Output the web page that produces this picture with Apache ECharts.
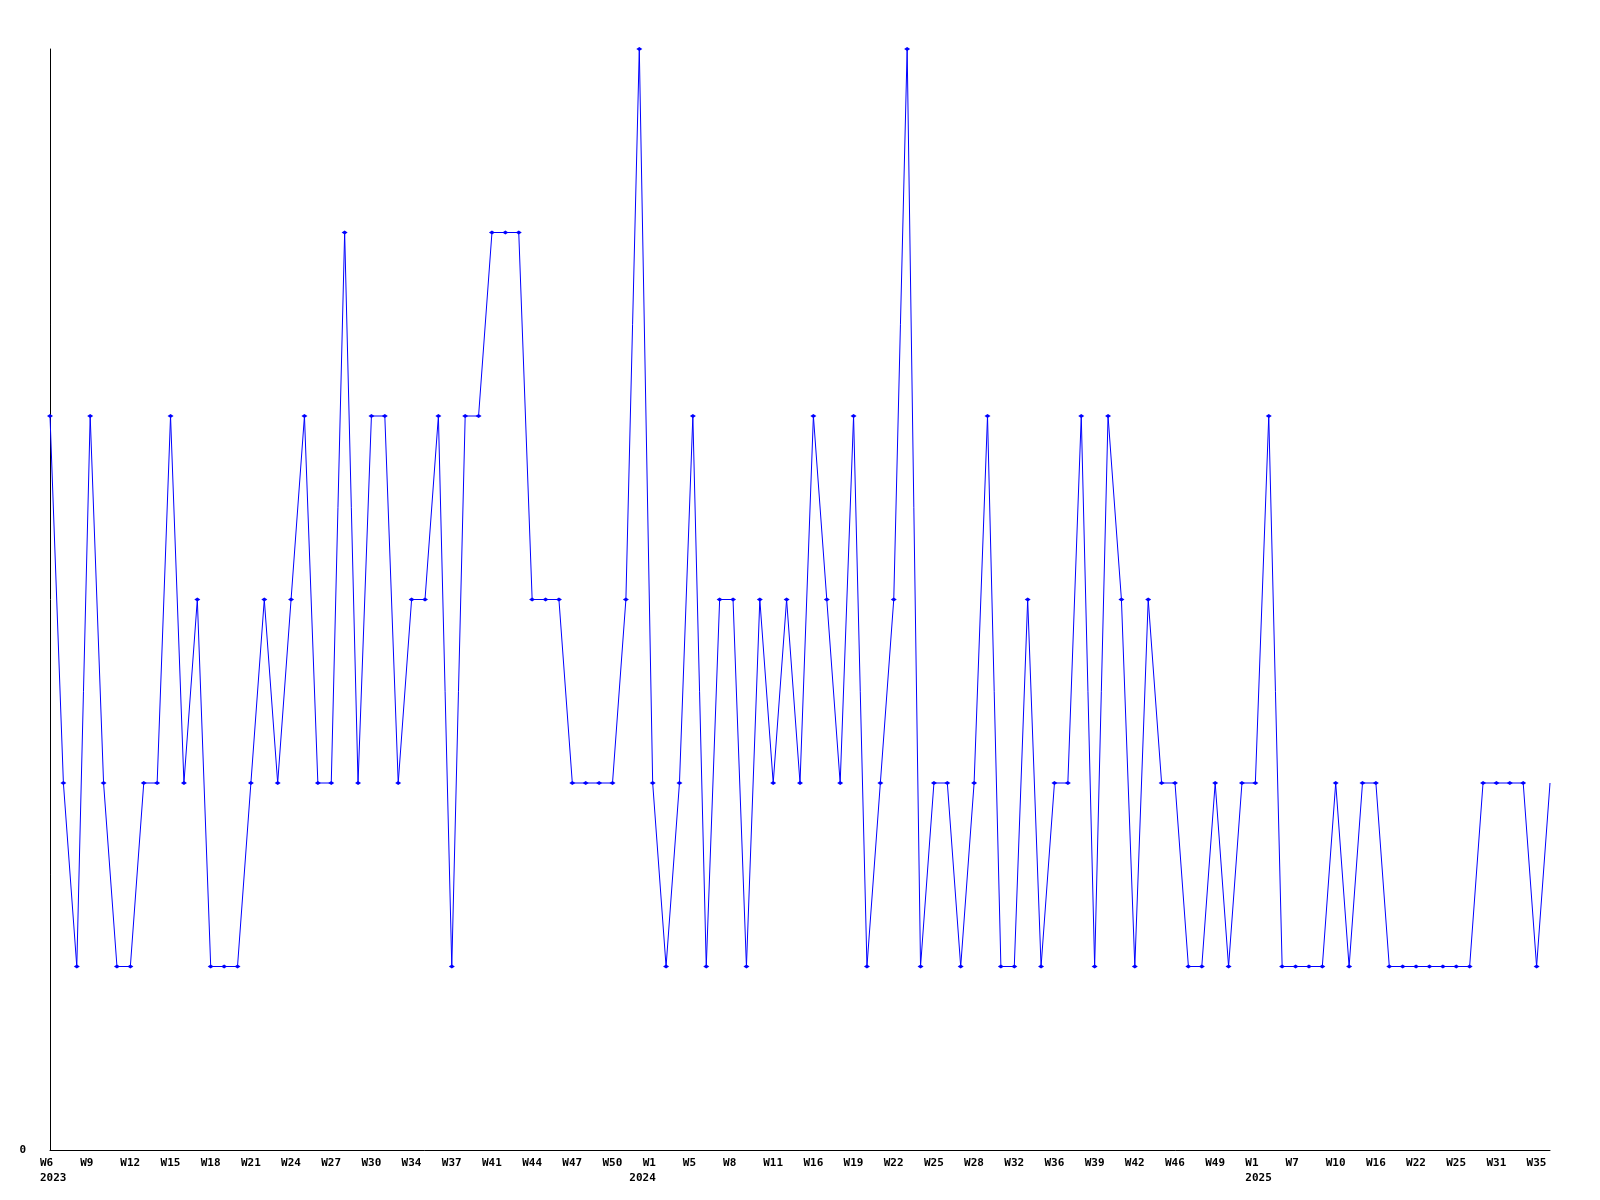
<!DOCTYPE html>
<html>
<head>
<meta charset="utf-8">
<script src="https://cdn.jsdelivr.net/npm/echarts@6/dist/echarts.min.js"></script>
<style>
html,body{margin:0;padding:0;background:#fff;}
#chart{width:1600px;height:1200px;}
</style>
</head>
<body>
<div id="chart"></div>
<script>
// Week categories (year-week); weeks with no value are absent
const weeks2023 = ['W6','W7','W8','W9','W10','W11','W12','W13','W14','W15','W16','W17','W18','W19','W20','W21','W22','W23','W24','W25','W26','W27','W28','W29','W30','W31','W33','W34','W35','W36','W37','W38','W40','W41','W42','W43','W44','W45','W46','W47','W48','W49','W50','W51','W52'];
const weeks2024 = ['W1','W2','W3','W5','W6','W7','W8','W9','W10','W11','W13','W14','W16','W17','W18','W19','W20','W21','W22','W23','W24','W25','W26','W27','W28','W29','W30','W32','W33','W34','W36','W37','W38','W39','W40','W41','W42','W43','W44','W46','W47','W48','W49','W50','W51'];
const weeks2025 = ['W1','W2','W4','W7','W8','W9','W10','W11','W13','W16','W18','W20','W22','W23','W24','W25','W27','W29','W31','W32','W33','W35','W36'];

// Year captions and the category index under which each is printed
const yearLabels = ['2023','2024','2025'];
const yearLabelAt = [0, 44, 90];

const values = [
  4,2,1,4,2,1,1,2,2,4,
  2,3,1,1,1,2,3,2,3,4,
  2,2,5,2,4,4,2,3,3,4,
  1,4,4,5,5,5,3,3,3,2,
  2,2,2,3,6,2,1,2,4,1,
  3,3,1,3,2,3,2,4,3,2,
  4,1,2,3,6,1,2,2,1,2,
  4,1,1,3,1,2,2,4,1,4,
  3,1,3,2,2,1,1,2,1,2,
  2,4,1,1,1,1,2,1,2,2,
  1,1,1,1,1,1,1,2,2,2,
  2,1,2
];

const categories = [].concat(weeks2023, weeks2024, weeks2025);

const seriesData = values.map((v, i) => i === values.length - 1 ? {value: v, symbol: 'none'} : v);

const chart = echarts.init(document.getElementById('chart'), null, {renderer: 'canvas'});
const font = 'DejaVu Sans Mono';
const labelBase = {
  fontFamily: font,
  fontWeight: 'bold',
  fontSize: 11,
  lineHeight: 15,
  color: '#000',
  align: 'center',
  rich: {
    a: {width: 20, align: 'left', fontFamily: font, fontWeight: 'bold', fontSize: 11, lineHeight: 15, color: '#000'}
  }
};
chart.setOption({
  animation: false,
  backgroundColor: '#ffffff',
  grid: {left: 50, right: 50, top: 49, bottom: 50, containLabel: false},
  xAxis: [{
    type: 'category',
    data: categories,
    boundaryGap: false,
    axisLine: {lineStyle: {color: '#000', width: 1}},
    axisTick: {show: false},
    splitLine: {show: false},
    axisLabel: Object.assign({}, labelBase, {
      interval: 2,
      margin: 6,
      formatter: val => '{a|' + val + '}'
    })
  }, {
    type: 'category',
    data: categories,
    position: 'bottom',
    boundaryGap: false,
    axisLine: {show: false},
    axisTick: {show: false},
    splitLine: {show: false},
    axisLabel: Object.assign({}, labelBase, {
      interval: 0,
      margin: 21,
      formatter: (val, idx) => {
        const k = yearLabelAt.indexOf(idx);
        return k >= 0 ? '{a|' + yearLabels[k] + '}' : '';
      }
    })
  }],
  yAxis: {
    type: 'value',
    min: 0,
    max: 6,
    interval: 6,
    axisLine: {show: true, lineStyle: {color: '#000', width: 1}},
    axisTick: {show: false},
    splitLine: {show: false},
    axisLabel: {
      margin: 24,
      fontFamily: font,
      fontWeight: 'bold',
      fontSize: 11,
      color: '#000',
      formatter: v => v === 0 ? '0' : ''
    }
  },
  series: [{
    type: 'line',
    xAxisIndex: 0,
    data: seriesData,
    symbol: 'diamond',
    symbolSize: [6, 4],
    showAllSymbol: true,
    lineStyle: {color: '#0000ff', width: 1},
    itemStyle: {color: '#0000ff'}
  }]
});
</script>
</body>
</html>
